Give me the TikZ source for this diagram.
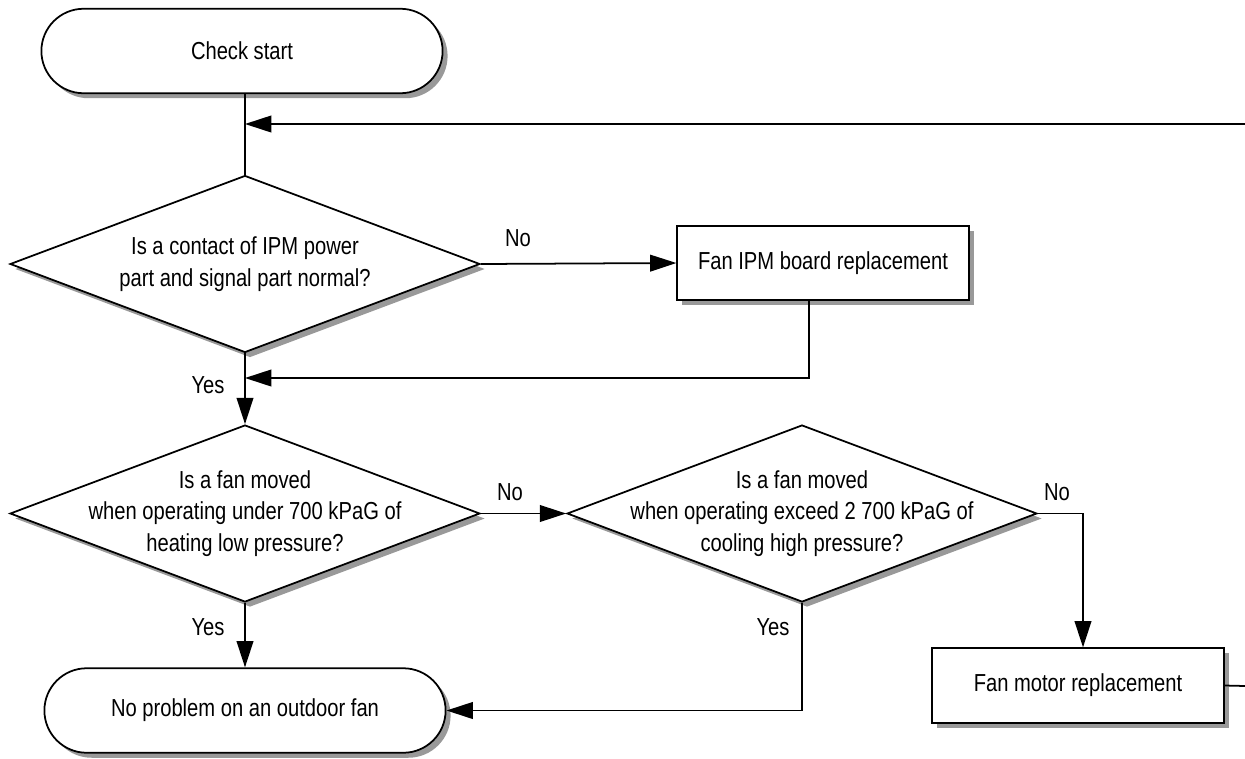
\documentclass[tikz,border=0pt]{standalone}
\usepackage{fontspec}
\setmainfont{Liberation Sans}[FakeStretch=0.82]
\usetikzlibrary{shapes.geometric,shapes.misc,shadows,arrows.meta}

\begin{document}
\begin{tikzpicture}[x=0.02cm, y=-0.02cm,
    font=\fontsize{14}{18}\selectfont,
    dshadow/.style={drop shadow={shadow xshift=0.1cm, shadow yshift=-0.1cm, fill=black!40, opacity=1}},
    terminal/.style={rounded rectangle, draw, line width=1pt, fill=white, dshadow,
        minimum width=8.26cm, minimum height=1.69cm},
    process/.style={rectangle, draw, line width=1pt, fill=white, dshadow,
        minimum width=5.83cm, minimum height=1.49cm},
    decision/.style={diamond, draw, line width=1pt, fill=white, dshadow,
        minimum width=9.4cm, minimum height=3.54cm, inner sep=0pt},
    qtext/.style={align=center},
    link/.style={line width=1pt},
    flow/.style={link, -{Triangle[length=15pt,width=9.5pt]}}]

    \useasboundingbox (0,0) rectangle (1245,758);

    % Bloques
    \node[terminal] (start) at (242,51) {Check start};
    \node[decision, label={[qtext]center:{Is a contact of IPM power\\part and signal part normal?}}] (q1) at (245,264) {};
    \node[process] (b1) at (823,263) {Fan IPM board replacement};
    \node[decision, label={[qtext]center:{Is a fan moved\\when operating under 700 kPaG of\\heating low pressure?}}] (q2) at (245,513.5) {};
    \node[decision, label={[qtext]center:{Is a fan moved\\when operating exceed 2 700 kPaG of\\cooling high pressure?}}] (q3) at (802,513.5) {};
    \node[process] (b2) at (1078,685.5) {Fan motor replacement};
    \node[terminal] (end) at (245,710.5) {No problem on an outdoor fan};

    % Puntos de union
    \coordinate (loop) at (1245,124);
    \coordinate (join) at (245,378);
    \coordinate (exit) at (1245,686);

    % Conexiones
    \draw[link] (start.south -| q1.north) -- (q1.north);
    \draw[flow] (loop) -- (loop -| q1.north);
    \draw[flow] (q1.east) -- (b1.west);
    \draw[flow] ([xshift=-0.28cm]b1.south) |- (join);
    \draw[flow] (q1.south) -- (q2.north);
    \draw[flow] (q2.east) -- (q3.west);
    \draw[flow] (q2.south) -- (end.north);
    \draw[flow] (q3.east) -| ([xshift=0.1cm]b2.north);
    \draw[flow] (q3.south) |- (end.east);
    \draw[link] (b2.east) -- (exit);

    % Etiquetas
    \node (no1) at (518,238) {No};
    \node (no2) at (510,492) {No};
    \node (no3) at (1057,492) {No};
    \node (yes1) at (208,385) {Yes};
    \node (yes2) at (208,627) {Yes};
    \node (yes3) at (773,627) {Yes};

\end{tikzpicture}
\end{document}
